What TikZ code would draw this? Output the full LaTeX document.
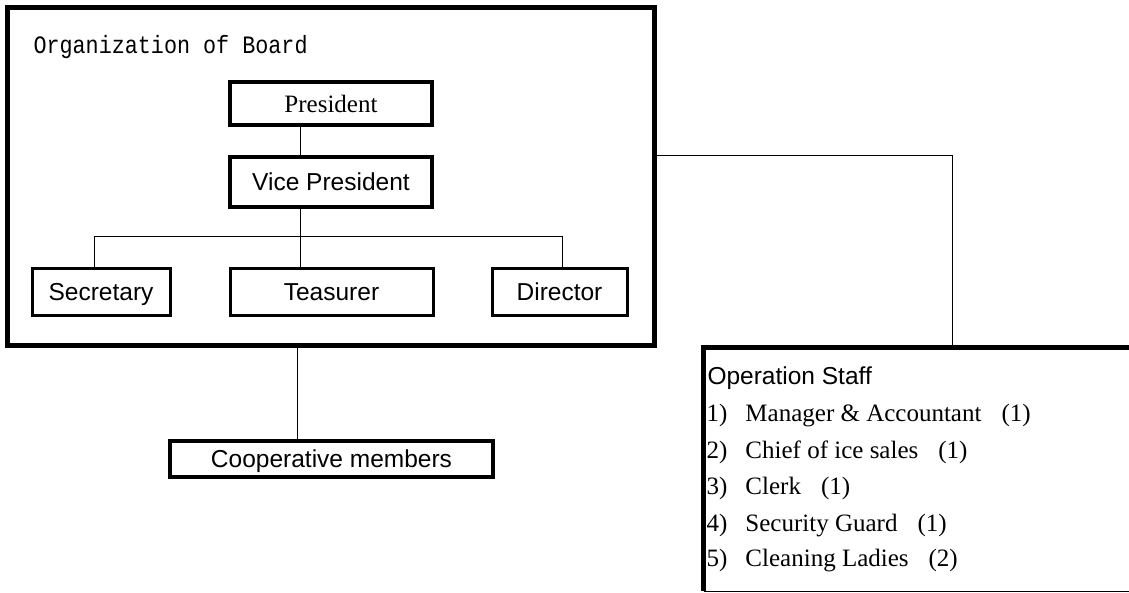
\documentclass[tikz,border=0pt]{standalone}
\usepackage{fontspec}
\setmainfont{Liberation Serif}
\setsansfont{Liberation Sans}
\newfontfamily\boardfont[FakeStretch=0.87]{Liberation Mono}
\usetikzlibrary{positioning}

\begin{document}
\begin{tikzpicture}[x=1pt, y=-1pt, line width=1pt,
    box/.style = {draw, line width=3pt, inner sep=0pt, text height=17pt, text depth=0pt, font=\fontsize{24.5}{29}\sffamily},
    topbox/.style = {box, line width=3.5pt, minimum width=202pt},
    item/.style = {anchor=base west, inner sep=0pt, font=\fontsize{25}{30}\rmfamily}]
    \useasboundingbox (0,0) rectangle (1129,592);

    \node[draw, line width=5pt, minimum width=647pt, minimum height=338pt] (board) at (331,176.5) {};
    \node[anchor=base west, inner sep=0pt, font=\boardfont\fontsize{25}{30}\selectfont] (title) at (33,53) {Organization of Board};

    \node[topbox, minimum height=43pt, font=\fontsize{25}{30}\rmfamily] (pres) at (331,103.5) {President};
    \node[topbox, minimum height=50pt] (vp)   at (331,182)     {Vice President};
    \node[box, minimum width=138pt, minimum height=47pt] (sec) at (101,291.5)   {Secretary};
    \node[box, minimum width=203pt, minimum height=47pt] (tea) at (331.5,291.5) {Teasurer};
    \node[box, minimum width=135pt, minimum height=47pt] (dir) at (559.5,291.5) {Director};
    \node[box, line width=4.5pt, minimum width=323pt, minimum height=36pt] (coop) at (331.5,459) {Cooperative members};

    \node[anchor=north west, inner sep=0pt, outer sep=0pt, minimum width=440pt, minimum height=243.5pt] (staff) at (703.5,347.5) {};
    \draw[line width=5pt] (staff.north east) -- (staff.north west) -- (staff.south west);
    \draw (staff.south west) -- (staff.south east);

    \node[item, font=\fontsize{24.5}{29}\sffamily] (head) at (707,384) {Operation Staff};
    \node[item] (s1) at (706,421) {\makebox[39pt][l]{1)}Manager \& Accountant\hspace{0.8em}(1)};
    \node[item] (s2) at (706,458) {\makebox[39pt][l]{2)}Chief of ice sales\hspace{0.8em}(1)};
    \node[item] (s3) at (706,494) {\makebox[39pt][l]{3)}Clerk\hspace{0.8em}(1)};
    \node[item] (s4) at (706,531) {\makebox[39pt][l]{4)}Security Guard\hspace{0.8em}(1)};
    \node[item] (s5) at (706,566) {\makebox[39pt][l]{5)}Cleaning Ladies\hspace{0.8em}(2)};

    \coordinate (spine) at (300,236);
    \coordinate (busl)  at (94,236);
    \coordinate (busr)  at (562,236);
    \coordinate (drop)  at (297,400);
    \coordinate (tap)   at (952,155);

    \draw (pres.south -| spine) -- (vp.north -| spine);
    \draw (vp.south -| spine) -- (tea.north -| spine);
    \draw (busl |- sec.north) -- (busl) -- (busr) -- (busr |- dir.north);
    \draw (board.south -| drop) -- (coop.north -| drop);
    \draw (board.east |- tap) -- (tap) -- (tap |- staff.north);
\end{tikzpicture}
\end{document}
